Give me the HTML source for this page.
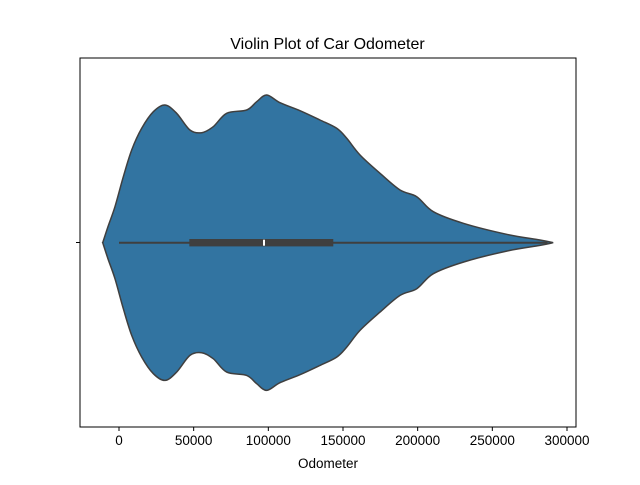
<!DOCTYPE html>
<html><head><meta charset="utf-8"><style>
body{margin:0;background:#fff}
svg text{font-family:"Liberation Sans","DejaVu Sans",sans-serif;fill:#000}
</style></head><body>
<svg width="640" height="480" xmlns="http://www.w3.org/2000/svg">
<rect width="640" height="480" fill="#fff"/>
<text x="327.5" y="49" font-size="16" text-anchor="middle">Violin Plot of Car Odometer</text>
<g id="plot"></g>
<rect x="80" y="58" width="496" height="369" fill="none" stroke="#000" stroke-width="1"/>
<g id="xaxis"></g>
<line x1="76" y1="242.5" x2="80" y2="242.5" stroke="#000"/>
<text x="328" y="468" font-size="13.5" text-anchor="middle">Odometer</text>
</svg>
<script>
const odometer=[-10900,-7400,-2700,2900,8500,15200,23000,30800,38600,47500,55400,63100,72100,85500,92200,98900,107800,121200,134600,145800,152500,161400,174800,188200,199400,210500,230600,259600,281900,290800];
const density=[0,16,36,66,92.7,114.4,131,137.7,129.4,112.7,110,116,129.4,132.7,141,147.7,140,132,122.7,114.4,104.4,87.7,69.4,52.7,46,31,19.4,8.4,2.7,0];
const boxStats=[0,47100,97100,143500,287000];
const xTicks=[0,50000,100000,150000,200000,250000,300000];
const NS="http://www.w3.org/2000/svg";
const X0=119,KX=1.4933/1000,CY=242.7,MAXH=147.7;
const maxD=Math.max(...density);
const sx=v=>X0+v*KX, sh=d=>d/maxD*MAXH;
function mk(t,a,p){const e=document.createElementNS(NS,t);for(const k in a)e.setAttribute(k,a[k]);p.appendChild(e);return e;}
const topPts=odometer.map((v,i)=>[sx(v),CY-sh(density[i])]);
const botPts=odometer.map((v,i)=>[sx(v),CY+sh(density[i])]).reverse();
function cr(pts){let d="";for(let i=0;i<pts.length-1;i++){const p0=pts[Math.max(0,i-1)],p1=pts[i],p2=pts[i+1],p3=pts[Math.min(pts.length-1,i+2)];
const c1=[p1[0]+(p2[0]-p0[0])/6,p1[1]+(p2[1]-p0[1])/6],c2=[p2[0]-(p3[0]-p1[0])/6,p2[1]-(p3[1]-p1[1])/6];
d+=` C${c1[0].toFixed(2)},${c1[1].toFixed(2)} ${c2[0].toFixed(2)},${c2[1].toFixed(2)} ${p2[0].toFixed(2)},${p2[1].toFixed(2)}`;}return d;}
const pathD="M"+topPts[0][0]+","+topPts[0][1]+cr(topPts)+" L"+botPts[0][0]+","+botPts[0][1]+cr(botPts)+"Z";
const plot=document.getElementById('plot');
const vp=mk('path',{d:pathD,fill:'#3274a1',stroke:'#3f3f3f','stroke-width':1.5},plot);


const wl=mk('line',{x1:sx(boxStats[0]),x2:sx(boxStats[4]),y1:CY,y2:CY,stroke:'#3f3f3f','stroke-width':2},plot);


const bx=mk('rect',{x:sx(boxStats[1]),y:CY-3.7,width:sx(boxStats[3])-sx(boxStats[1]),height:7.4,fill:'#3f3f3f'},plot);


const md=mk('rect',{x:sx(boxStats[2])-1,y:CY-3,width:2,height:6,fill:'#fff'},plot);


const xa=document.getElementById('xaxis');
xTicks.forEach(t=>{const x=sx(t);
const l=mk('line',{x1:x,x2:x,y1:427,y2:431,stroke:'#000'},xa);


const tx=mk('text',{x:x,y:445,'font-size':13.5,'text-anchor':'middle'},xa);tx.textContent=String(t);

});
</script>
</body></html>
